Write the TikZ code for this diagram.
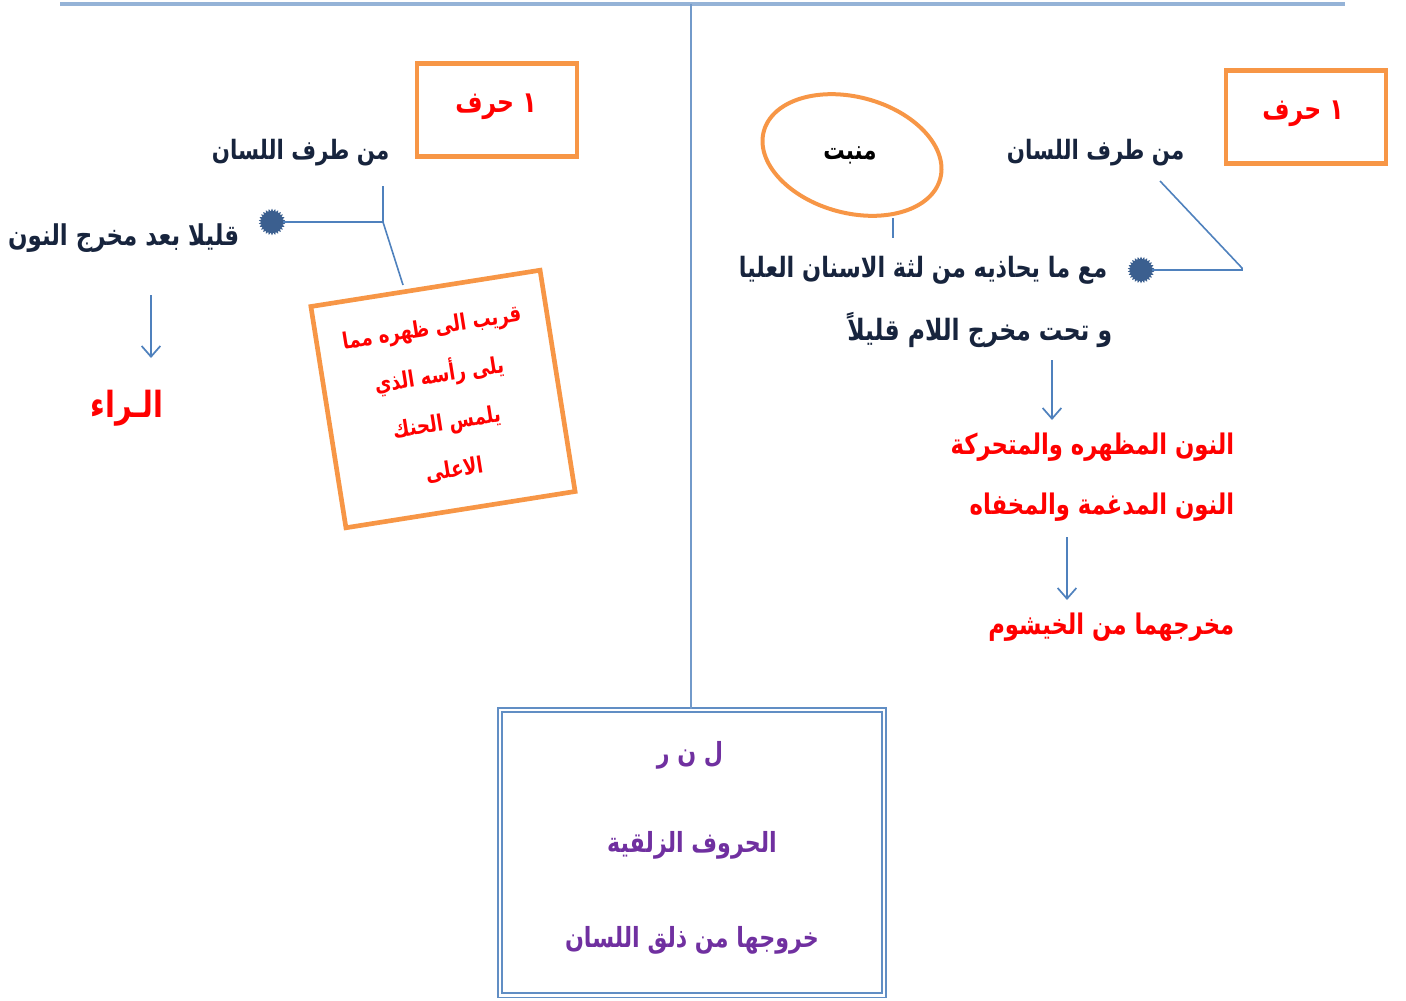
\documentclass[tikz,border=0pt]{standalone}
\usepackage{fontspec}
\usetikzlibrary{shapes.geometric,arrows.meta}
\newfontfamily\arabicfont[Script=Arabic,FakeStretch=0.8]{DejaVu Sans}
\TeXXeTstate=1
\newcommand{\artxt}[1]{\arabicfont\bfseries\beginR #1\endR}
\definecolor{lineblue}{HTML}{4F81BD}
\definecolor{boxorange}{HTML}{F79646}
\definecolor{darktxt}{HTML}{17243D}
\definecolor{redtxt}{HTML}{FF0000}
\definecolor{purp}{HTML}{7030A0}
\definecolor{starblue}{HTML}{3B5F8F}
\tikzset{
  conn/.style={draw=lineblue, line width=1.2pt},
  arr/.style={draw=lineblue, line width=1.3pt, -{Straight Barb[length=8pt,width=14pt,line width=1.3pt]}},
  obox/.style={draw=boxorange, line width=3.5pt, minimum width=120pt, minimum height=70pt},
  dtext/.style={text=darktxt, font=\fontsize{21.5}{24}\selectfont},
  rtext/.style={text=redtxt, font=\fontsize{21.3}{24}\selectfont},
  ptext/.style={text=purp, font=\fontsize{20.8}{24}\selectfont},
  starb/.style={star, star points=26, star point ratio=1.25, fill=starblue, draw=none, minimum size=20pt, inner sep=0pt}
}
\begin{document}
\begin{tikzpicture}[x=0.75pt,y=-0.75pt]
\useasboundingbox (0,0) rectangle (1406,1000);
% frame lines
\coordinate (tl) at (60,4);
\coordinate (tr) at (1345,4);
\coordinate (tm) at (691,4);
\draw[draw=lineblue!60, line width=2.6pt] (tl) -- (tr);
% bottom box
\node[draw=lineblue!90, double=white, double distance=2pt, line width=1.2pt, minimum width=288pt, minimum height=214pt, inner sep=0pt] (bbox) at (692,852.5) {};
\draw[draw=lineblue!80, line width=1.5pt] (tm) -- (bbox.north -| tm);
\node[ptext] (b1) at (690,755) {\artxt{ل ن ر}};
\node[ptext] (b2) at (692,845) {\artxt{الحروف الزلقية}};
\node[ptext] (b3) at (692,940) {\artxt{خروجها من ذلق اللسان}};

% ---------- right side ----------
\node[obox] (rbox) at (1306,117) {};
\node[rtext, font=\fontsize{22}{24}\selectfont] (rbt) at (1303,114) {\artxt{١ حرف}};
\node[dtext, font=\fontsize{20}{24}\selectfont, anchor=east] (rt1) at (1189,153) {\artxt{من طرف اللسان}};
\node[draw=boxorange, line width=3pt, ellipse, minimum width=137pt, minimum height=87pt, rotate=-15] (ell) at (852,155) {};
\node[text=black, font=\fontsize{20}{24}\selectfont] (ellt) at (850,155) {\artxt{منبت}};
\coordinate (ellb) at (893,218);
\coordinate (ellb2) at (893,238);
\draw[conn] (ellb) -- (ellb2);
\node[starb] (rstar) at (1141,270) {};
\coordinate (rc1) at (1160,181);
\coordinate (rc2) at (1242,268);
\draw[conn] (rc1) -- (rc2) -- (rstar.center -| rc2) -- (rstar);
\node[dtext, font=\fontsize{21}{24}\selectfont, anchor=east] (rt2) at (1112,270) {\artxt{مع ما يحاذيه من لثة الاسنان العليا}};
\node[dtext, font=\fontsize{22}{24}\selectfont, anchor=east] (rt3) at (1117,330) {\artxt{و تحت مخرج اللام قليلاً}};
\coordinate (ra1) at (1052,360);
\coordinate (ra2) at (1052,420);
\draw[arr] (ra1) -- (ra2);
\node[rtext, anchor=east] (rr1) at (1239,447) {\artxt{النون المظهره والمتحركة}};
\node[rtext, anchor=east] (rr2) at (1239,507) {\artxt{النون المدغمة والمخفاه}};
\coordinate (ra3) at (1067,537);
\coordinate (ra4) at (1067,600);
\draw[arr] (ra3) -- (ra4);
\node[rtext, anchor=east] (rr3) at (1239,627) {\artxt{مخرجهما من الخيشوم}};

% ---------- left side ----------
\node[obox] (lbox) at (497,110) {};
\node[rtext, font=\fontsize{22}{24}\selectfont] (lbt) at (496,107) {\artxt{١ حرف}};
\node[dtext, font=\fontsize{20}{24}\selectfont, anchor=east] (lt1) at (394,153) {\artxt{من طرف اللسان}};
\coordinate (lc1) at (383,186);
\coordinate (lc2) at (383,222);
\coordinate (lc3) at (403,285);
\node[starb] (lstar) at (272,222) {};
\draw[conn] (lc1) -- (lc2) -- (lstar);
\draw[conn] (lc2) -- (lc3);
\node[dtext, anchor=east] (lt2) at (244,238) {\artxt{قليلا بعد مخرج النون}};
\coordinate (la1) at (151,295);
\coordinate (la2) at (151,358);
\draw[arr] (la1) -- (la2);
\node[rtext, font=\fontsize{27}{30}\selectfont] (lr) at (127,408) {\artxt{الـراء}};
\node[draw=boxorange, line width=3.5pt, minimum width=174pt, minimum height=168pt, rotate=9, inner sep=0pt,
      text=redtxt, font=\fontsize{17}{36}\selectfont, align=center] (rbx) at (443,399)
  {\artxt{قريب الى ظهره مما}\\ \artxt{يلى رأسه الذي}\\ \artxt{يلمس الحنك}\\ \artxt{الاعلى}};
\end{tikzpicture}
\end{document}
